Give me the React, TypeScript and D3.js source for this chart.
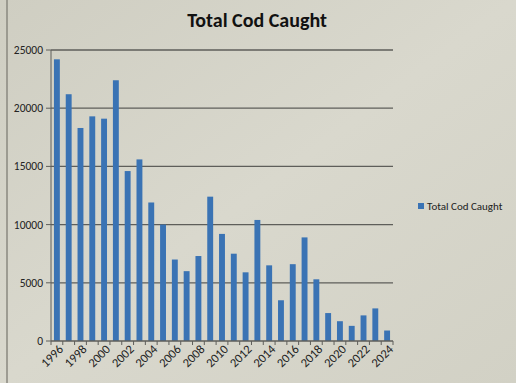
import React from "react";
import * as d3 from "d3";

const years: string[] = [
  "1996","1997","1998","1999","2000","2001","2002","2003","2004","2005",
  "2006","2007","2008","2009","2010","2011","2012","2013","2014","2015",
  "2016","2017","2018","2019","2020","2021","2022","2023","2024",
];
const codCaught: number[] = [
  24200, 21200, 18300, 19300, 19100, 22400, 14600, 15600, 11900, 10000,
  7000, 6000, 7300, 12400, 9200, 7500, 5900, 10400, 6500, 3500,
  6600, 8900, 5300, 2400, 1700, 1300, 2200, 2800, 900,
];
const yTicks: number[] = [0, 5000, 10000, 15000, 20000, 25000];
const seriesName = "Total Cod Caught";
const title = "Total Cod Caught";

export default function App() {
  const W = 516, H = 383;
  const left = 51, right = 393, top = 50, bottom = 341;
  const x = d3.scaleBand<string>().domain(years).range([left, right]).paddingInner(0.5).paddingOuter(0.25);
  const y = d3.scaleLinear().domain([0, 25000]).range([bottom, top]);
  const font = "Calibri, Carlito, 'Liberation Sans', Arial, sans-serif";
  return (
    <svg width={W} height={H} style={{ position: "absolute", left: 0, top: 0 }} fontFamily={font}>
      <defs>
        <linearGradient id="bg" x1="0" x2="1" y1="0" y2="1">
          <stop offset="0" stopColor="#cfcec2" />
          <stop offset="0.5" stopColor="#d9d8cd" />
          <stop offset="1" stopColor="#d2d1c5" />
        </linearGradient>
      </defs>
      <rect x={0} y={0} width={W} height={H} fill="url(#bg)" />
      <line x1={7} x2={7} y1={0} y2={H} stroke="#8a897f" strokeWidth={1.5} />
      <text x={257} y={27} textAnchor="middle" fontSize={20} fontWeight="bold" fill="#111">{title}</text>
      {yTicks.map((t) => (
        <g key={t}>
          {t > 0 && <line x1={left} x2={right} y1={y(t)} y2={y(t)} stroke="#5e5e5a" strokeWidth={1.3} />}
          <line x1={left - 5} x2={left} y1={y(t)} y2={y(t)} stroke="#5e5e5a" strokeWidth={1} />
          <text x={left - 8} y={y(t)} dy="0.35em" textAnchor="end" fontSize={11.5} fill="#222">{t}</text>
        </g>
      ))}
      <line x1={left} x2={left} y1={top} y2={bottom} stroke="#5e5e5a" strokeWidth={1} />
      {codCaught.map((v, i) => (
        <rect key={years[i]} x={x(years[i])!} y={y(v)} width={x.bandwidth()} height={bottom - y(v)} fill="#3a73b4" />
      ))}
      <line x1={left} x2={right} y1={bottom} y2={bottom} stroke="#5e5e5a" strokeWidth={1.3} />
      {d3.range(years.length + 1).map((i) => {
        const xt = left + ((right - left) / years.length) * i;
        return <line key={"t" + i} x1={xt} x2={xt} y1={bottom} y2={bottom + 4} stroke="#5e5e5a" />;
      })}
      {years.map((yr, i) => i % 2 === 0 ? (
        <text key={"l" + yr} transform={`translate(${x(yr)! + x.bandwidth() / 2 + 7},${bottom + 9}) rotate(-45)`} textAnchor="end" fontSize={12.5} fill="#222">{yr}</text>
      ) : null)}
      <rect x={418} y={203} width={6} height={6} fill="#3a73b4" />
      <text x={427} y={206} dy="0.35em" fontSize={11} fill="#222">{seriesName}</text>
    </svg>
  );
}
